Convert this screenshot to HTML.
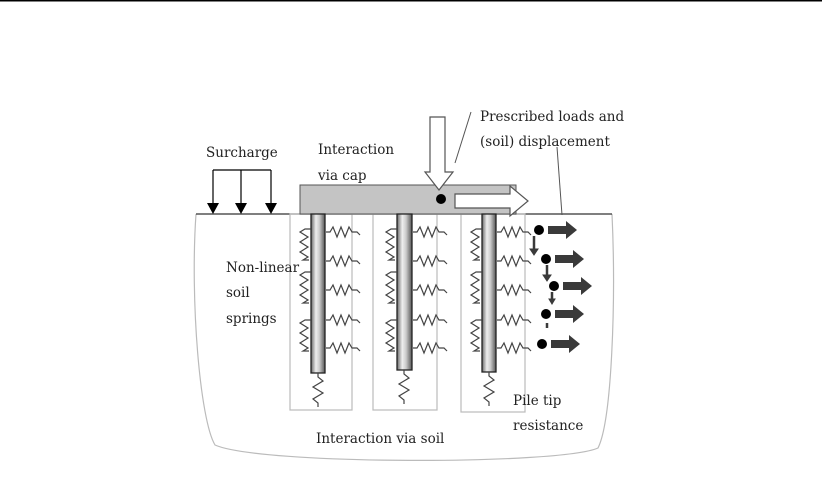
<!DOCTYPE html>
<html><head><meta charset="utf-8"><style>
html,body{margin:0;padding:0;background:#fff;width:822px;height:483px;overflow:hidden}
svg{display:block}
text{font-family:"DejaVu Serif","Liberation Serif",serif;font-size:13.5px;fill:#222}
</style></head><body>
<svg width="822" height="483" viewBox="0 0 822 483" xmlns="http://www.w3.org/2000/svg">
<defs>
<linearGradient id="pg" x1="0" x2="1" y1="0" y2="0">
<stop offset="0" stop-color="#666"/><stop offset="0.35" stop-color="#eee"/><stop offset="0.6" stop-color="#ccc"/><stop offset="1" stop-color="#555"/>
</linearGradient>
<path id="hs" d="M0,0 h4 l3,-5 l4,10 l4,-10 l4,10 l4,-10 l3,5 h5 l3,3" fill="none" stroke="#444" stroke-width="1.2"/>
<path id="vs" d="M0,0 h-6 l-5,3 l8,5 l-8,5 l8,5 l-8,5 l8,5 l-5,3 h6" fill="none" stroke="#444" stroke-width="1.2"/>
<path id="ts" d="M0,0 v4 l5,4 l-10,6 l10,6 l-10,6 l5,4 v4" fill="none" stroke="#444" stroke-width="1.2"/>
<g id="ar"><path d="M0,-4 h18 v-5 l11,9 l-11,9 v-5 h-18z" fill="#3a3a3a"/></g>
</defs>
<rect x="0" y="0" width="822" height="1.5" fill="#000"/>
<!-- soil outline -->
<path d="M196,214 C190,300 200,420 215,445 C260,465 560,465 598,448 C612,420 616,300 612,214" fill="none" stroke="#bbb" stroke-width="1.2"/>
<line x1="196" y1="214" x2="612" y2="214" stroke="#333" stroke-width="1.2"/>
<!-- boxes -->
<g fill="none" stroke="#bbb" stroke-width="1.2">
<rect x="290" y="214" width="62" height="196"/>
<rect x="373" y="214" width="64" height="196"/>
<rect x="461" y="214" width="64" height="198"/>
</g>
<!-- cap -->
<rect x="300" y="185" width="216" height="29" fill="#c4c4c4" stroke="#555" stroke-width="1"/>
<!-- piles -->
<rect x="311" y="214" width="14" height="159" fill="url(#pg)" stroke="#222" stroke-width="1.3"/>
<rect x="397" y="214" width="15" height="156" fill="url(#pg)" stroke="#222" stroke-width="1.3"/>
<rect x="482" y="214" width="14" height="158" fill="url(#pg)" stroke="#222" stroke-width="1.3"/>
<!-- right springs -->
<g>
<use href="#hs" x="326" y="232"/><use href="#hs" x="326" y="261"/><use href="#hs" x="326" y="290"/><use href="#hs" x="326" y="320"/><use href="#hs" x="326" y="348"/>
<use href="#hs" x="413" y="232"/><use href="#hs" x="413" y="261"/><use href="#hs" x="413" y="290"/><use href="#hs" x="413" y="320"/><use href="#hs" x="413" y="348"/>
<use href="#hs" x="497" y="232"/><use href="#hs" x="497" y="261"/><use href="#hs" x="497" y="290"/><use href="#hs" x="497" y="320"/><use href="#hs" x="497" y="348"/>
</g>
<!-- left springs -->
<g>
<use href="#vs" x="311" y="229"/><use href="#vs" x="311" y="272"/><use href="#vs" x="311" y="320"/>
<use href="#vs" x="397" y="229"/><use href="#vs" x="397" y="272"/><use href="#vs" x="397" y="320"/>
<use href="#vs" x="482" y="229"/><use href="#vs" x="482" y="272"/><use href="#vs" x="482" y="320"/>
</g>
<!-- tip springs -->
<use href="#ts" x="318" y="373"/><use href="#ts" x="404" y="370"/><use href="#ts" x="489" y="372"/>
<!-- displacement -->
<g fill="#000">
<circle cx="539" cy="230" r="5"/><circle cx="546" cy="259" r="5"/><circle cx="554" cy="286" r="5"/><circle cx="546" cy="314" r="5"/><circle cx="542" cy="344" r="5"/>
</g>
<use href="#ar" x="548" y="230"/><use href="#ar" x="555" y="259"/><use href="#ar" x="563" y="286"/><use href="#ar" x="555" y="314"/><use href="#ar" x="551" y="344"/>
<g stroke="#3a3a3a" stroke-width="2.5" fill="#3a3a3a">
<line x1="534" y1="236" x2="534" y2="250"/><path d="M530,249 l4,6 l4,-6z" stroke-width="1"/>
<line x1="547" y1="265" x2="547" y2="276"/><path d="M543,275 l4,6 l4,-6z" stroke-width="1"/>
<line x1="552" y1="292" x2="552" y2="300"/><path d="M549,299 l3,5 l3,-5z" stroke-width="1"/>
<line x1="547" y1="323" x2="547" y2="328"/>
</g>
<!-- load arrows -->
<path d="M430,117 h15 v55 h8 l-14,18 l-14,-18 h5z" fill="#fff" stroke="#555" stroke-width="1.2"/>
<path d="M455,194 h55 v-8 l18,15 l-18,15 v-8 h-55z" fill="#fff" stroke="#555" stroke-width="1.2"/>
<circle cx="441" cy="199" r="5" fill="#000"/>
<!-- surcharge -->
<g stroke="#000" stroke-width="1.2">
<line x1="213" y1="170" x2="271" y2="170"/>
<line x1="213" y1="170" x2="213" y2="204"/><line x1="241" y1="170" x2="241" y2="204"/><line x1="271" y1="170" x2="271" y2="204"/>
</g>
<path d="M207,203 h12 l-6,11z M235,203 h12 l-6,11z M265,203 h12 l-6,11z" fill="#000"/>
<!-- leaders -->
<line x1="471" y1="112" x2="455" y2="163" stroke="#555" stroke-width="1"/>
<line x1="557" y1="147" x2="562" y2="215" stroke="#555" stroke-width="1"/>
<!-- text -->
<text x="206" y="157">Surcharge</text>
<text x="318" y="154">Interaction</text>
<text x="318" y="180">via cap</text>
<text x="480" y="121">Prescribed loads and</text>
<text x="480" y="146">(soil) displacement</text>
<text x="226" y="272">Non-linear</text>
<text x="226" y="297">soil</text>
<text x="226" y="323">springs</text>
<text x="513" y="405">Pile tip</text>
<text x="513" y="430">resistance</text>
<text x="316" y="443">Interaction via soil</text>
</svg>
</body></html>
